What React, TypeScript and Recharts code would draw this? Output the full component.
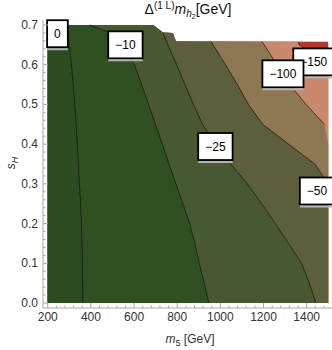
import { Area, ComposedChart, Line, ReferenceDot, XAxis, YAxis } from "recharts";

// s_H rows (bottom -> top); contour positions are m5 values
const sGrid = [0, 0.05, 0.1, 0.15, 0.2, 0.25, 0.3, 0.35, 0.4, 0.45, 0.5, 0.55, 0.6, 0.65, 0.658, 0.659, 0.68, 0.681, 0.7];
// right edge of the computed region for each row
const topEdge = [1500, 1500, 1500, 1500, 1500, 1500, 1500, 1500, 1500, 1500, 1500, 1500, 1500, 1500, 1500, 794, 780, 734, 688];

const c0 = [363, 362, 361, 359, 356, 352, 347, 342, 337, 332, 325, 318, 310, 300, 298, 298, 294, 293, 289];
const c10 = [947, 925, 902, 882, 858, 826, 794, 762, 731, 699, 667, 635, 602, 545, 535, 533, 493, 488, 396];
const c25 = [1443, 1412, 1376, 1316, 1255, 1191, 1125, 1048, 972, 918, 875, 836, 797, 757, 751, 750, 734, null, null];
const c50 = [null, null, null, null, null, null, 1500, 1438, 1316, 1196, 1130, 1079, 1024, 966, 958, null, null, null, null];
const c100 = [null, null, null, null, null, null, null, null, null, 1482, 1397, 1321, 1262, 1203, 1193, null, null, null, null];
const c150 = [null, null, null, null, null, null, null, null, null, null, null, null, 1500, 1365, 1360, null, null, null, null];

// drawn in this order (the -100 box sits over the -150 box)
const contourLabels = [
    { text: "0", m: 245, s: 0.678 },
    { text: "\u221210", m: 560, s: 0.65 },
    { text: "\u221225", m: 977, s: 0.394 },
    { text: "\u221250", m: 1448, s: 0.282 },
    { text: "\u2212150", m: 1433, s: 0.607 },
    { text: "\u2212100", m: 1290, s: 0.577 },
];

const xMajorTicks = [200, 400, 600, 800, 1000, 1200, 1400];
const yMajorTicks = [0, 0.1, 0.2, 0.3, 0.4, 0.5, 0.6, 0.7];

const xTicks: number[] = [];
for (let v = 200; v <= 1520; v += 40) xTicks.push(v);
const yTicks: number[] = [];
for (let i = 0; i <= 35; i++) yTicks.push(Math.round(i * 2) / 100);

const rows = sGrid.map((s, i) => {
    const top = topEdge[i];
    const clip = (v: number | null) => (v == null ? top : Math.min(v, top));
    return {
        s,
        r: top,
        a150: clip(c150[i]),
        a100: clip(c100[i]),
        a50: clip(c50[i]),
        a25: clip(c25[i]),
        a10: clip(c10[i]),
        a0: clip(c0[i]),
        l0: c0[i],
        l10: c10[i],
        l25: c25[i],
        l50: c50[i],
        l100: c100[i],
        l150: c150[i],
    };
});

const regions = [
    { key: "r", color: "#b6352c" },
    { key: "a150", color: "#c9896a" },
    { key: "a100", color: "#8e7853" },
    { key: "a50", color: "#5c5e3c" },
    { key: "a25", color: "#485931" },
    { key: "a10", color: "#2f5121" },
    { key: "a0", color: "#2b4c1e" },
];
const lineKeys = ["l0", "l10", "l25", "l50", "l100", "l150"];

const FONT = '"Liberation Sans", Arial, sans-serif';
const FRAME = "#a8a8a8";
const TXT = "#333";

const isMajorY = (v: number) => yMajorTicks.some((t) => Math.abs(t - v) < 1e-9);

function BottomTick({ x, y, payload }: any) {
    const major = xMajorTicks.includes(payload.value);
    return (
        <g>
            <line x1={x} x2={x} y1={y} y2={y - (major ? 5 : 2.5)} stroke={FRAME} />
            {major && (
                <text x={x} y={y + 13} textAnchor="middle" fontSize={12} fontFamily={FONT} fill={TXT}>
                    {payload.value}
                </text>
            )}
        </g>
    );
}

function TopTick({ x, y, payload }: any) {
    const major = xMajorTicks.includes(payload.value);
    return <line x1={x} x2={x} y1={y} y2={y + (major ? 5 : 2.5)} stroke={FRAME} />;
}

function LeftTick({ x, y, payload }: any) {
    const major = isMajorY(payload.value);
    return (
        <g>
            <line x1={x} x2={x + (major ? 5 : 2.5)} y1={y} y2={y} stroke={FRAME} />
            {major && (
                <text x={x - 5} y={y + 4} textAnchor="end" fontSize={12} fontFamily={FONT} fill={TXT}>
                    {payload.value.toFixed(1)}
                </text>
            )}
        </g>
    );
}

function RightTick({ x, y, payload }: any) {
    const major = isMajorY(payload.value);
    return <line x1={x} x2={x - (major ? 5 : 2.5)} y1={y} y2={y} stroke={FRAME} />;
}

function LabelBox({ cx, cy, text }: { cx: number; cy: number; text: string }) {
    const w = text.split("").reduce((acc, ch) => acc + (ch === "\u2212" ? 7 : 6.7), 0) + 14;
    const h = 27;
    return (
        <g>
            <rect x={cx - w / 2} y={cy - h / 2} width={w} height={h} fill="#fff" stroke="#000" strokeWidth={1.8} />
            <line x1={cx - w / 2} x2={cx + w / 2} y1={cy + h / 2 + 2} y2={cy + h / 2 + 2} stroke="#b4b4b4" strokeWidth={2} />
            <text x={cx} y={cy + 4.3} textAnchor="middle" fontSize={12} fontFamily={FONT} fill="#000">
                {text}
            </text>
        </g>
    );
}

export default function App() {
    return (
        <div style={{ position: "absolute", left: 0, top: 0, width: 332, height: 350, overflow: "hidden", background: "#fff" }}>
            <ComposedChart
                layout="vertical"
                width={334}
                height={350}
                data={rows}
                margin={{ top: 20, right: 1, bottom: 0, left: 0 }}
            >
                <XAxis
                    type="number"
                    domain={[178, 1522]}
                    allowDataOverflow
                    ticks={xTicks}
                    interval={0}
                    height={42}
                    tickSize={0}
                    tickMargin={0}
                    tickLine={false}
                    axisLine={{ stroke: FRAME }}
                    tick={<BottomTick />}
                />
                <XAxis
                    xAxisId="t"
                    orientation="top"
                    type="number"
                    domain={[178, 1522]}
                    allowDataOverflow
                    ticks={xTicks}
                    interval={0}
                    height={0}
                    tickSize={0}
                    tickMargin={0}
                    tickLine={false}
                    axisLine={{ stroke: FRAME }}
                    tick={<TopTick />}
                />
                <YAxis
                    type="number"
                    dataKey="s"
                    reversed
                    domain={[-0.0125, 0.7125]}
                    allowDataOverflow
                    ticks={yTicks}
                    interval={0}
                    width={43}
                    tickSize={0}
                    tickMargin={0}
                    tickLine={false}
                    axisLine={{ stroke: FRAME }}
                    tick={<LeftTick />}
                />
                <YAxis
                    yAxisId="r"
                    orientation="right"
                    type="number"
                    dataKey="s"
                    reversed
                    domain={[-0.0125, 0.7125]}
                    allowDataOverflow
                    ticks={yTicks}
                    interval={0}
                    width={0}
                    tickSize={0}
                    tickMargin={0}
                    tickLine={false}
                    axisLine={{ stroke: FRAME }}
                    tick={<RightTick />}
                />
                {regions.map((r) => (
                    <Area
                        key={r.key}
                        type="linear"
                        dataKey={r.key}
                        baseValue={200}
                        stroke="none"
                        fill={r.color}
                        fillOpacity={1}
                        isAnimationActive={false}
                    />
                ))}
                {lineKeys.map((k) => (
                    <Line
                        key={k}
                        type="linear"
                        dataKey={k}
                        stroke="#111"
                        strokeWidth={0.8}
                        strokeOpacity={0.85}
                        dot={false}
                        activeDot={false}
                        isAnimationActive={false}
                    />
                ))}
                {contourLabels.map((l) => (
                    <ReferenceDot
                        key={l.text}
                        x={l.m}
                        y={l.s}
                        r={0}
                        ifOverflow="visible"
                        shape={(p: any) => <LabelBox cx={p.cx} cy={p.cy} text={l.text} />}
                    />
                ))}
            </ComposedChart>
            <div
                style={{
                    position: "absolute",
                    left: 0,
                    top: 0,
                    width: 376,
                    textAlign: "center",
                    fontFamily: FONT,
                    fontSize: 14,
                    lineHeight: "18px",
                    color: "#111",
                    whiteSpace: "nowrap",
                }}
            >
                Δ<span style={{ fontSize: 10, position: "relative", top: -5 }}>(1 L)</span>
                <i>m</i>
                <span style={{ fontSize: 10, position: "relative", top: 3, fontStyle: "italic" }}>
                    h<span style={{ fontSize: 7, fontStyle: "normal", position: "relative", top: 2 }}>2</span>
                </span>
                [GeV]
            </div>
            <div
                style={{
                    position: "absolute",
                    left: 2,
                    top: 331,
                    width: 376,
                    textAlign: "center",
                    fontFamily: FONT,
                    fontSize: 12,
                    lineHeight: "16px",
                    color: TXT,
                    whiteSpace: "nowrap",
                }}
            >
                <i>m</i>
                <span style={{ fontSize: 9, position: "relative", top: 3 }}>5</span> [GeV]
            </div>
            <div
                style={{
                    position: "absolute",
                    left: 11,
                    top: 163,
                    transform: "translate(-50%, -50%) rotate(-90deg)",
                    fontFamily: FONT,
                    fontSize: 12,
                    lineHeight: "16px",
                    color: TXT,
                    whiteSpace: "nowrap",
                }}
            >
                <i>s</i>
                <span style={{ fontSize: 9, position: "relative", top: 3, fontStyle: "italic" }}>H</span>
            </div>
        </div>
    );
}
